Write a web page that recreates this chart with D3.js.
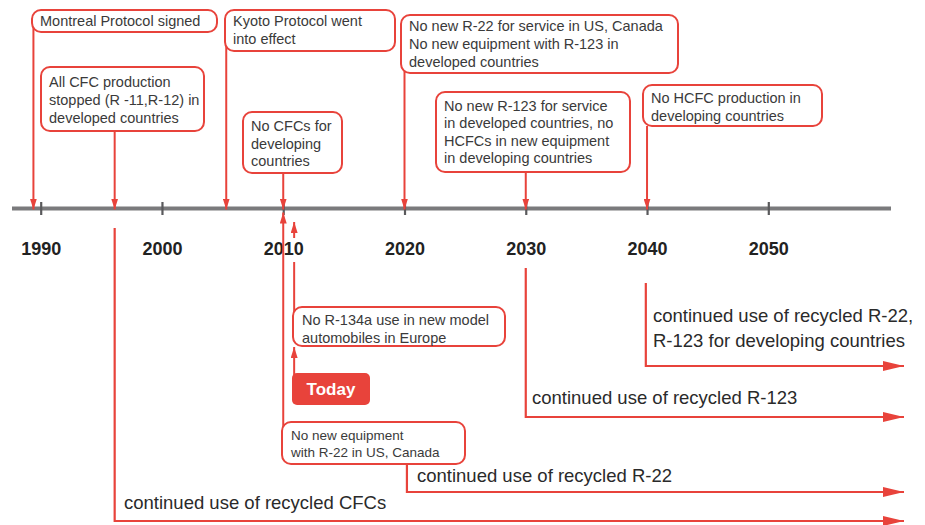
<!DOCTYPE html>
<html><head><meta charset="utf-8">
<script src="https://cdn.jsdelivr.net/npm/d3@7"></script>
<style>
html,body{margin:0;padding:0;background:#fff;}
svg{display:block;font-family:"Liberation Sans",Arial,Helvetica,sans-serif;}
</style></head>
<body>
<svg id="chart" width="925" height="525"></svg>
<script>
// ---------- data ----------
const tickYears = [1990, 2000, 2010, 2020, 2030, 2040, 2050];
const tickLabels = ["1990", "2000", "2010", "2020", "2030", "2040", "2050"];

// milestones above the axis
const aboveYears = [1989.4, 1996.1, 2005.3, 2010, 2020, 2030, 2040];
const aboveLabels = [
  ["Montreal Protocol signed"],
  ["All CFC production", "stopped (R -11,R-12) in", "developed countries"],
  ["Kyoto Protocol went", "into effect"],
  ["No CFCs for", "developing", "countries"],
  ["No new R-22 for service in US, Canada", "No new equipment with R-123 in", "developed countries"],
  ["No new R-123 for service", "in developed countries, no", "HCFCs in new equipment", "in developing countries"],
  ["No HCFC production in", "developing countries"]
];

// milestones below the axis
const belowYears = [2010, 2010.9];
const belowLabels = [
  ["No new equipment", "with R-22 in US, Canada"],
  ["No R-134a use in new model", "automobiles in Europe"]
];
const todayYear = 2010.9;
const todayLabel = "Today";

// continued-use periods
const continuedYears = [1996.1, 2020.2, 2030, 2039.9];
const continuedLabels = [
  ["continued use of recycled CFCs"],
  ["continued use of recycled R-22"],
  ["continued use of recycled R-123"],
  ["continued use of recycled R-22,", "R-123 for developing countries"]
];

// ---------- layout (pixels) ----------
const RED = "#e8433b";
const axisY = 208.5;
const aboveBoxes = [ // x, y, w, h, text baseline offset, line height, line start y
  {x:32,  y:10,  w:185, h:22, b:16, lh:18, ly:22},
  {x:41,  y:67,  w:163, h:64, b:20, lh:18, ly:131},
  {x:225, y:10,  w:170, h:41, b:16, lh:18, ly:30},
  {x:243, y:112, w:99,  h:61, b:19, lh:17.7, ly:173},
  {x:401, y:15,  w:277, h:58, b:16, lh:18, ly:44},
  {x:436, y:92,  w:194, h:80, b:19, lh:17.3, ly:172},
  {x:643, y:85,  w:179, h:41, b:18, lh:18, ly:126}
];
const belowBoxes = [
  {x:282, y:422, w:183, h:42, b:18, lh:17, fs:13.5},
  {x:293, y:307, w:212, h:39, b:18, lh:18, fs:14.5}
];
const todayBox = {x:292, y:373, w:78, h:32};
const continuedLayout = [ // vertical start y, horizontal y, text x, text baseline
  {y0:228, y1:521, tx:124, ty:509},
  {y0:464, y1:492, tx:417, ty:482},
  {y0:268, y1:417, tx:532, ty:404},
  {y0:283, y1:366, tx:653, ty:322}
];
const arrowTipX = 904;

// ---------- drawing ----------
const svg = d3.select("#chart");
const x = d3.scaleLinear().domain([1990, 2050]).range([40.7, 768.3]);

const defs = svg.append("defs");
function marker(id, w, h) {
  defs.append("marker").attr("id", id)
    .attr("viewBox", `0 0 ${w} ${h}`).attr("refX", w).attr("refY", h/2)
    .attr("markerWidth", w).attr("markerHeight", h)
    .attr("markerUnits", "userSpaceOnUse").attr("orient", "auto")
    .append("path").attr("d", `M0,0L${w},${h/2}L0,${h}Z`).attr("fill", RED);
}
marker("arrSmall", 11, 7);
marker("arrBig", 21, 10);

// axis line
const axisG = svg.append("g");
axisG.append("line").attr("x1", 12).attr("x2", 891).attr("y1", axisY).attr("y2", axisY)
  .attr("stroke", "#7a7a7c").attr("stroke-width", 4);
const axis = d3.axisBottom(x).tickValues(tickYears).tickSize(0).tickFormat((d, i) => tickLabels[i]);
const axG = svg.append("g").attr("transform", `translate(0,${axisY})`).call(axis);
axG.select(".domain").remove();
axG.selectAll(".tick text").attr("dy", 0).attr("y", 46)
  .attr("font-size", 18).attr("font-weight", "bold").attr("fill", "#222")
  .attr("font-family", "Liberation Sans, Arial, sans-serif");
axG.selectAll(".tick").append("line").attr("y1", -6.5).attr("y2", 6.5)
  .attr("stroke", "#5a5a5c").attr("stroke-width", 2.2);

const lines = svg.append("g");
const boxes = svg.append("g");

// above milestones: down arrows
aboveYears.forEach((yr, i) => {
  const L = aboveBoxes[i];
  lines.append("line").attr("x1", x(yr)).attr("x2", x(yr)).attr("y1", L.ly).attr("y2", axisY + 1)
    .attr("stroke", RED).attr("stroke-width", 2).attr("marker-end", "url(#arrSmall)");
  boxes.append("rect").attr("x", L.x).attr("y", L.y).attr("width", L.w).attr("height", L.h)
    .attr("rx", 9).attr("fill", "#fff").attr("stroke", RED).attr("stroke-width", 2);
  const t = boxes.append("text").attr("x", L.x + 8).attr("y", L.y + L.b)
    .attr("font-size", 14.5).attr("fill", "#3a3a3a");
  aboveLabels[i].forEach((s, j) => t.append("tspan").attr("x", L.x + 8).attr("y", L.y + L.b + j * L.lh).text(s));
});

// below milestones: up arrows
(function () {
  const xa = x(belowYears[0]);
  lines.append("line").attr("x1", xa).attr("x2", xa).attr("y1", belowBoxes[0].y + 20).attr("y2", axisY + 4)
    .attr("stroke", RED).attr("stroke-width", 2).attr("marker-end", "url(#arrSmall)");
  const xb = x(belowYears[1]);
  lines.append("line").attr("x1", xb).attr("x2", xb).attr("y1", 238).attr("y2", 222)
    .attr("stroke", RED).attr("stroke-width", 2).attr("marker-end", "url(#arrSmall)");
  lines.append("line").attr("x1", xb).attr("x2", xb).attr("y1", belowBoxes[1].y + 10).attr("y2", 262)
    .attr("stroke", RED).attr("stroke-width", 2);
  // Today -> R-134a box
  lines.append("line").attr("x1", x(todayYear)).attr("x2", x(todayYear)).attr("y1", todayBox.y + 2)
    .attr("y2", belowBoxes[1].y + belowBoxes[1].h + 1)
    .attr("stroke", RED).attr("stroke-width", 2).attr("marker-end", "url(#arrSmall)");
})();

belowYears.forEach((yr, i) => {
  const L = belowBoxes[i];
  boxes.append("rect").attr("x", L.x).attr("y", L.y).attr("width", L.w).attr("height", L.h)
    .attr("rx", 9).attr("fill", "#fff").attr("stroke", RED).attr("stroke-width", 2);
  const t = boxes.append("text").attr("font-size", L.fs).attr("fill", "#3a3a3a");
  belowLabels[i].forEach((s, j) => t.append("tspan").attr("x", L.x + 9).attr("y", L.y + L.b + j * L.lh).text(s));
});

boxes.append("rect").attr("x", todayBox.x).attr("y", todayBox.y).attr("width", todayBox.w).attr("height", todayBox.h)
  .attr("rx", 5).attr("fill", RED);
boxes.append("text").attr("x", todayBox.x + todayBox.w / 2).attr("y", todayBox.y + 22)
  .attr("text-anchor", "middle").attr("font-size", 17).attr("font-weight", "bold").attr("fill", "#fff")
  .text(todayLabel);

// continued-use periods
continuedYears.forEach((yr, i) => {
  const L = continuedLayout[i];
  const xv = x(yr);
  lines.append("path").attr("d", `M${xv},${L.y0}V${L.y1}H${arrowTipX}`)
    .attr("fill", "none").attr("stroke", RED).attr("stroke-width", 2.2).attr("marker-end", "url(#arrBig)");
  const t = svg.append("text").attr("font-size", 18.5).attr("fill", "#2a2a2a");
  continuedLabels[i].forEach((s, j) => t.append("tspan").attr("x", L.tx).attr("y", L.ty + j * 24.5).text(s));
});
</script>
</body></html>
